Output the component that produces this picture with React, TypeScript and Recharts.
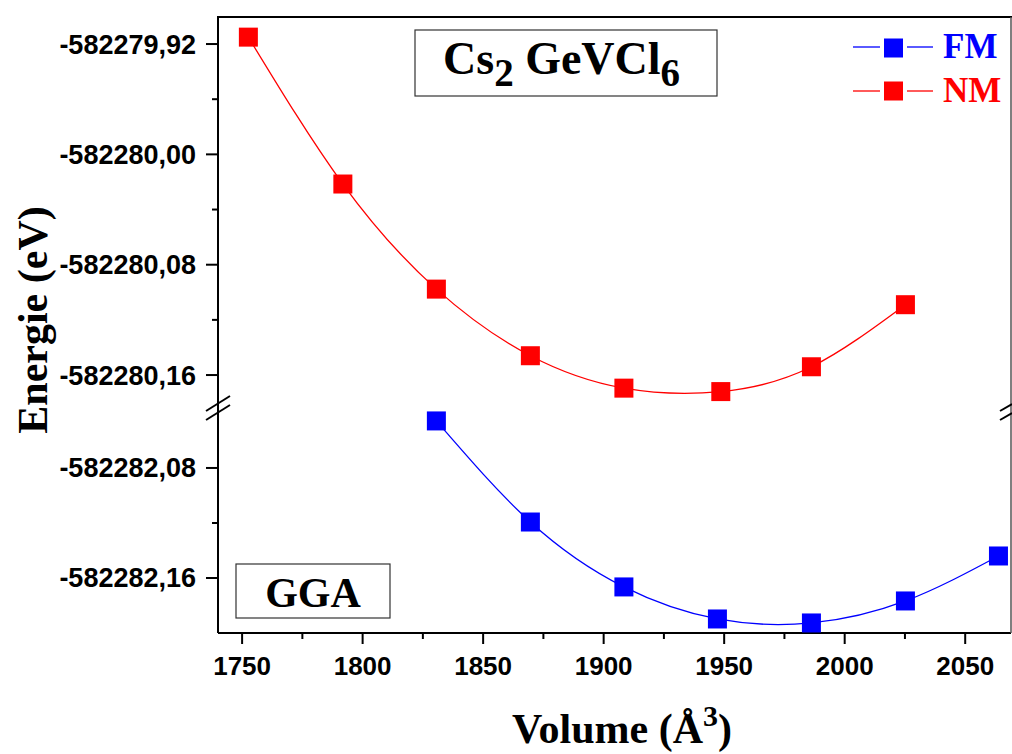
import React from 'react';
import { LineChart, Line, XAxis, YAxis } from 'recharts';

// Cs2GeVCl6 total energy vs. volume (GGA), non-magnetic and ferromagnetic states
const nmVolumes = [1752.6, 1791.8, 1830.6, 1869.6, 1908.4, 1948.6, 1986.2, 2025.2];
const nmEnergies = [
  -582279.915, -582280.0215, -582280.0977, -582280.146,
  -582280.1695, -582280.172, -582280.154, -582280.109,
];
const fmVolumes = [1830.6, 1869.6, 1908.4, 1947.2, 1986.2, 2025.2, 2063.8];
const fmEnergies = [
  -582282.0458, -582282.1193, -582282.1665, -582282.1898,
  -582282.1927, -582282.1767, -582282.144,
];

// axis ticks (upper and lower segments of the broken energy axis)
const xMajorTicks = [1750, 1800, 1850, 1900, 1950, 2000, 2050];
const xMinorTicks = [1775, 1825, 1875, 1925, 1975, 2025];
const upperMajorTicks = [-582279.92, -582280.0, -582280.08, -582280.16];
const upperMinorTicks = [-582279.96, -582280.04, -582280.12];
const lowerMajorTicks = [-582282.08, -582282.16];
const lowerMinorTicks = [-582282.12];

const xDomain: [number, number] = [1740, 2069];
const upperDomain: [number, number] = [-582280.1839, -582279.9004];
const lowerDomain: [number, number] = [-582282.2, -582282.0364];

const FM_COLOR = '#0000ff';
const NM_COLOR = '#ff0000';
const SANS = '"Liberation Sans", Arial, sans-serif';
const SERIF = '"Liberation Serif", "Times New Roman", serif';

const nmData = nmVolumes.map((v, i) => ({ v, e: nmEnergies[i] }));
const fmData = fmVolumes.map((v, i) => ({ v, e: fmEnergies[i] }));

const isIn = (list: number[], val: number) => list.some((t) => Math.abs(t - val) < 1e-6);
const fmtEnergy = (v: number) => v.toFixed(2).replace('.', ',');

const makeYTick = (majors: number[]) => (props: any) => {
  const { x, y, payload } = props;
  const major = isIn(majors, payload.value);
  return (
    <g>
      <line x1={x - (major ? 12 : 6)} x2={x} y1={y} y2={y} stroke="#000" strokeWidth={2} />
      {major && (
        <text
          x={x - 22}
          y={y}
          dy={9.5}
          textAnchor="end"
          fontFamily={SANS}
          fontWeight="bold"
          fontSize={27}
          fill="#000"
        >
          {fmtEnergy(payload.value)}
        </text>
      )}
    </g>
  );
};

const XTick = (props: any) => {
  const { x, y, payload } = props;
  const major = isIn(xMajorTicks, payload.value);
  return (
    <g>
      <line x1={x} x2={x} y1={y} y2={y + (major ? 11 : 6)} stroke="#000" strokeWidth={2} />
      {major && (
        <text
          x={x}
          y={y + 42}
          textAnchor="middle"
          fontFamily={SANS}
          fontWeight="bold"
          fontSize={26}
          fill="#000"
        >
          {payload.value}
        </text>
      )}
    </g>
  );
};

const squareDot = (color: string) => (p: any) => (
  <rect key={`d${p.index}`} x={p.cx - 9.5} y={p.cy - 9.5} width={19} height={19} fill={color} />
);

const axisLine = { stroke: '#000', strokeWidth: 2 };

export default function App() {
  return (
    <div style={{ position: 'absolute', left: 0, top: 0, width: 1012, height: 754, background: '#fff' }}>
      <div style={{ position: 'absolute', left: 0, top: 0 }}>
        <LineChart width={1012} height={408} data={nmData} margin={{ top: 17, right: 1, bottom: 0, left: 0 }}>
          <XAxis dataKey="v" type="number" domain={xDomain} allowDataOverflow hide />
          <YAxis
            type="number"
            domain={upperDomain}
            allowDataOverflow
            width={218}
            ticks={[...upperMajorTicks, ...upperMinorTicks]}
            tick={makeYTick(upperMajorTicks)}
            tickLine={false}
            tickSize={0}
            tickMargin={0}
            axisLine={axisLine}
            interval={0}
          />
          <Line
            dataKey="e"
            name="NM"
            type="natural"
            stroke={NM_COLOR}
            strokeWidth={1.3}
            dot={squareDot(NM_COLOR)}
            activeDot={false}
            isAnimationActive={false}
          />
        </LineChart>
      </div>
      <div style={{ position: 'absolute', left: 0, top: 408 }}>
        <LineChart width={1012} height={346} data={fmData} margin={{ top: 0, right: 1, bottom: 0, left: 0 }}>
          <XAxis
            dataKey="v"
            type="number"
            domain={xDomain}
            allowDataOverflow
            height={121}
            ticks={[...xMajorTicks, ...xMinorTicks]}
            tick={XTick}
            tickLine={false}
            tickSize={0}
            tickMargin={0}
            axisLine={axisLine}
            interval={0}
          />
          <YAxis
            type="number"
            domain={lowerDomain}
            allowDataOverflow
            width={218}
            ticks={[...lowerMajorTicks, ...lowerMinorTicks]}
            tick={makeYTick(lowerMajorTicks)}
            tickLine={false}
            tickSize={0}
            tickMargin={0}
            axisLine={axisLine}
            interval={0}
          />
          <Line
            dataKey="e"
            name="FM"
            type="natural"
            stroke={FM_COLOR}
            strokeWidth={1.3}
            dot={squareDot(FM_COLOR)}
            activeDot={false}
            isAnimationActive={false}
          />
        </LineChart>
      </div>
      <svg
        width={1012}
        height={754}
        style={{ position: 'absolute', left: 0, top: 0, pointerEvents: 'none' }}
      >
        {/* frame: top and right borders */}
        <line x1={217} x2={1012} y1={17} y2={17} stroke="#000" strokeWidth={2} />
        <line x1={1011} x2={1011} y1={17} y2={633} stroke="#555" strokeWidth={1.5} />

        {/* axis break marks */}
        <g stroke="#000" strokeWidth={2}>
          <line x1={206} y1={420} x2={230} y2={405} />
          <line x1={206} y1={411} x2={230} y2={396} />
          <line x1={1000} y1={420} x2={1012} y2={413} />
          <line x1={1000} y1={411} x2={1012} y2={404} />
        </g>

        {/* compound label */}
        <rect x={415} y={30} width={302} height={66} fill="#fff" stroke="#333" strokeWidth={1.2} />
        <text x={443} y={74} fontFamily={SERIF} fontWeight="bold" fontSize={46} fill="#000">
          Cs
          <tspan fontSize={39} dy={12}>2</tspan>
          <tspan fontSize={46} dy={-12}> GeVCl</tspan>
          <tspan fontSize={39} dy={12}>6</tspan>
        </text>

        {/* method label */}
        <rect x={236} y={564} width={154} height={54} fill="#fff" stroke="#333" strokeWidth={1.2} />
        <text x={313} y={607} textAnchor="middle" fontFamily={SERIF} fontWeight="bold" fontSize={42} fill="#000">
          GGA
        </text>

        {/* legend */}
        <g>
          <line x1={853} x2={880} y1={47} y2={47} stroke={FM_COLOR} strokeWidth={1.3} />
          <rect x={884} y={38.5} width={19} height={19} fill={FM_COLOR} />
          <line x1={907} x2={933} y1={47} y2={47} stroke={FM_COLOR} strokeWidth={1.3} />
          <text x={943} y={58} fontFamily={SERIF} fontWeight="bold" fontSize={35} fill={FM_COLOR}>
            FM
          </text>
          <line x1={853} x2={880} y1={91} y2={91} stroke={NM_COLOR} strokeWidth={1.3} />
          <rect x={884} y={81.5} width={19} height={19} fill={NM_COLOR} />
          <line x1={907} x2={933} y1={91} y2={91} stroke={NM_COLOR} strokeWidth={1.3} />
          <text x={943} y={102} fontFamily={SERIF} fontWeight="bold" fontSize={35} fill={NM_COLOR}>
            NM
          </text>
        </g>

        {/* axis titles */}
        <text
          transform="translate(47 320) rotate(-90)"
          textAnchor="middle"
          fontFamily={SERIF}
          fontWeight="bold"
          fontSize={42}
          fill="#000"
        >
          Energie (eV)
        </text>
        <text x={622} y={743} textAnchor="middle" fontFamily={SERIF} fontWeight="bold" fontSize={42} fill="#000">
          Volume (Å<tspan fontSize={30} dy={-17}>3</tspan>
          <tspan dy={17}>)</tspan>
        </text>
      </svg>
    </div>
  );
}
